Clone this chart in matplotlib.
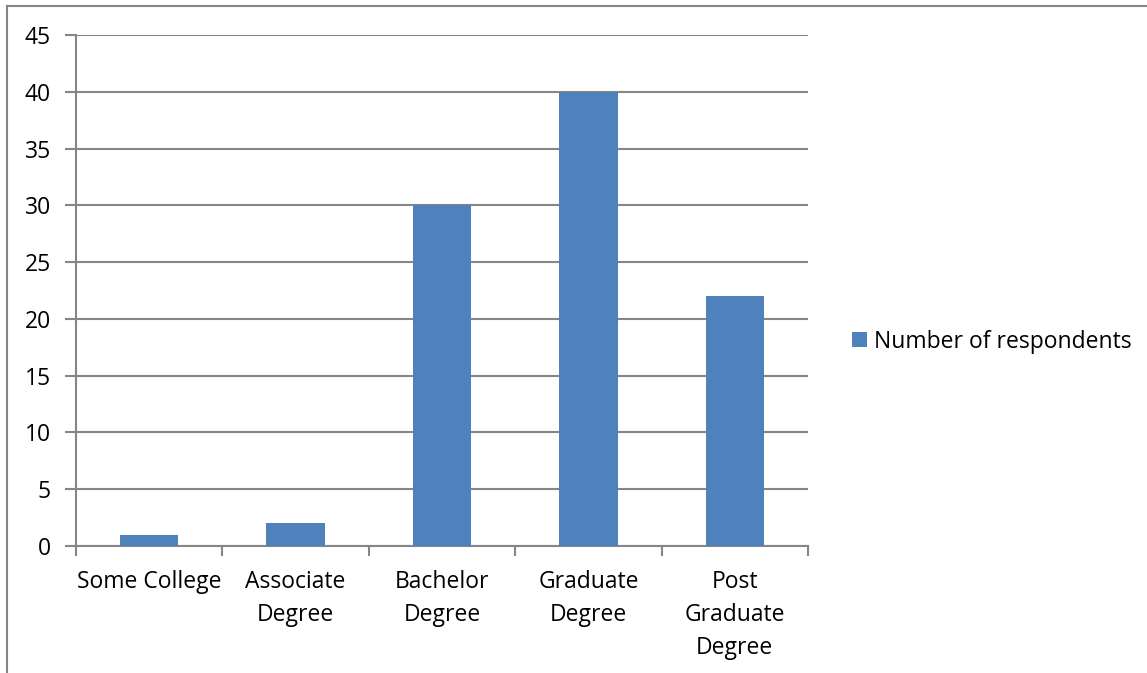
import numpy as np
import matplotlib.pyplot as plt
from matplotlib.lines import Line2D

# Respondents by education level
categories = ['Some College', 'Associate\nDegree', 'Bachelor\nDegree',
              'Graduate\nDegree', 'Post\nGraduate\nDegree']
respondents = [1, 2, 30, 40, 22]
series_name = 'Number of respondents'

plt.rcParams['font.family'] = ['Open Sans', 'DejaVu Sans']
bar_color = '#4F81BD'
grid_color = '#868686'
fs = 16.5

fig = plt.figure(figsize=(11.47, 6.73), dpi=100)
ax = fig.add_axes([76 / 1147, 1 - 546 / 673, 732 / 1147, 511 / 673])

x = np.arange(len(categories))
ax.bar(x, respondents, width=0.4, color=bar_color, label=series_name, zorder=3)

ax.set_xlim(-0.5, len(categories) - 0.5)
ax.set_ylim(0, 45)
ax.set_yticks(np.arange(0, 46, 5))
ax.yaxis.grid(True, color=grid_color, linewidth=1.5, zorder=0)
ax.tick_params(axis='y', length=8, width=1.5, color=grid_color, pad=10,
               labelsize=fs)

# category labels centred, tick marks between categories
ax.set_xticks(x)
ax.set_xticklabels(categories, fontsize=fs, linespacing=1.5, va='top')
ax.set_xticks(np.arange(-0.5, len(categories)), minor=True)
ax.tick_params(axis='x', which='major', length=0, pad=17)
ax.tick_params(axis='x', which='minor', length=7, width=1.5, color=grid_color)

for side in ['top', 'right']:
    ax.spines[side].set_visible(False)
for side in ['left', 'bottom']:
    ax.spines[side].set_color(grid_color)
    ax.spines[side].set_linewidth(1.5)

ax.legend(loc='center left', bbox_to_anchor=(1.06, 0.40), frameon=False,
          borderaxespad=0, borderpad=0, fontsize=fs, handlelength=0.65,
          handleheight=0.65, handletextpad=0.3)

# chart frame
fig.add_artist(Line2D([7 / 1147, 1], [1 - 6 / 673, 1 - 6 / 673],
                      color=grid_color, linewidth=1.5, transform=fig.transFigure))
fig.add_artist(Line2D([7 / 1147, 7 / 1147], [0, 1 - 6 / 673],
                      color=grid_color, linewidth=1.5, transform=fig.transFigure))

fig.savefig('out.png', dpi=100)
